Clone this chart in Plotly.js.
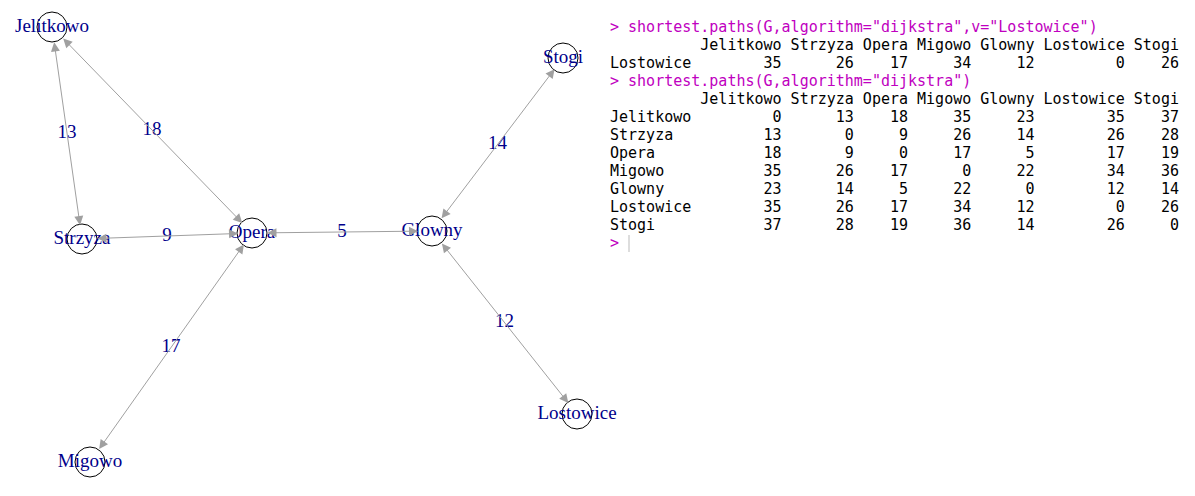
<!DOCTYPE html>
<html><head><meta charset="utf-8">
<script src="https://cdn.plot.ly/plotly-3.0.1.min.js"></script>
<style>body{margin:0;background:#fff}</style>
</head><body>
<div id="graph" style="width:1195px;height:496px"></div>
<script>
// graph nodes (layout positions in screen pixels)
var nodes = ['Jelitkowo','Strzyza','Opera','Migowo','Glowny','Lostowice','Stogi'];
var node_x = [52, 82, 252, 90, 432, 577, 563];
var node_y = [27, 239, 233, 462, 231, 414, 58];

// edges and weights
var edge_from = ['Jelitkowo','Jelitkowo','Strzyza','Opera','Migowo','Glowny','Glowny'];
var edge_to   = ['Strzyza','Opera','Opera','Glowny','Opera','Stogi','Lostowice'];
var weights   = [13, 18, 9, 5, 17, 14, 12];

// console output
var cmd1 = 'shortest.paths(G,algorithm="dijkstra",v="Lostowice")';
var cmd2 = 'shortest.paths(G,algorithm="dijkstra")';
var lost_row = [35, 26, 17, 34, 12, 0, 26];
var dist = [
  [0, 13, 18, 35, 23, 35, 37],
  [13, 0, 9, 26, 14, 26, 28],
  [18, 9, 0, 17, 5, 17, 19],
  [35, 26, 17, 0, 22, 34, 36],
  [23, 14, 5, 22, 0, 12, 14],
  [35, 26, 17, 34, 12, 0, 26],
  [37, 28, 19, 36, 14, 26, 0]
];

function pad(s, n) { s = String(s); while (s.length < n) s = ' ' + s; return s; }
function padr(s, n) { s = String(s); while (s.length < n) s += ' '; return s; }
function header() { return padr('', 9) + nodes.map(function(n){ return ' ' + n; }).join(''); }
function row(name, vals) {
  return padr(name, 9) + vals.map(function(v, i){ return ' ' + pad(v, nodes[i].length); }).join('');
}
function nb(s) { return s.replace(/ /g, '\u00A0'); }

var idx = {};
nodes.forEach(function(n, i){ idx[n] = i; });

var annotations = [];
var shapes = [];
var edgeLabX = [], edgeLabY = [], edgeLab = [];
edge_from.forEach(function(f, k){
  var a = idx[f], b = idx[edge_to[k]];
  annotations.push({
    x: node_x[b], y: node_y[b], ax: node_x[a], ay: node_y[a],
    xref: 'x', yref: 'y', axref: 'x', ayref: 'y', text: '',
    showarrow: true, arrowside: 'end+start', arrowhead: 2, startarrowhead: 2,
    arrowsize: 1.8, startarrowsize: 1.8, arrowwidth: 1, arrowcolor: '#A0A0A0',
    standoff: 14, startstandoff: 14
  });
  edgeLabX.push((node_x[a] + node_x[b]) / 2);
  edgeLabY.push((node_y[a] + node_y[b]) / 2);
  edgeLab.push(String(weights[k]));
});

var lines = [
  {t: '> ' + cmd1, c: '#C000C0'},
  {t: header(), c: '#000'},
  {t: row('Lostowice', lost_row), c: '#000'},
  {t: '> ' + cmd2, c: '#C000C0'},
  {t: header(), c: '#000'}
];
nodes.forEach(function(n, i){ lines.push({t: row(n, dist[i]), c: '#000'}); });
lines.push({t: '>', c: '#C000C0'});
lines.forEach(function(l, i){
  annotations.push({
    x: 608, y: 27 + i * 18, xref: 'x', yref: 'y', xanchor: 'left', yanchor: 'middle',
    showarrow: false, text: nb(l.t),
    font: {family: 'DejaVu Sans Mono', size: 15, color: l.c}
  });
});
shapes.push({type: 'line', x0: 629, x1: 629, y0: 235, y1: 252, line: {color: '#bbb', width: 1}});

var edgeText = {
  x: edgeLabX, y: edgeLabY, text: edgeLab, mode: 'text', type: 'scatter',
  textfont: {family: 'Liberation Serif', size: 19, color: '#00008B'},
  hoverinfo: 'none'
};
var nodeTrace = {
  x: node_x, y: node_y, text: nodes, mode: 'markers+text', type: 'scatter',
  marker: {symbol: 'circle-open', size: 30, color: '#000', line: {width: 1, color: '#000'}},
  textposition: 'middle center',
  textfont: {family: 'Liberation Serif', size: 19, color: '#00008B'}
};

Plotly.newPlot('graph', [edgeText, nodeTrace], {
  width: 1195, height: 496,
  margin: {l: 0, r: 0, t: 0, b: 0},
  showlegend: false,
  paper_bgcolor: '#fff', plot_bgcolor: '#fff',
  xaxis: {range: [0, 1195], visible: false, fixedrange: true},
  yaxis: {range: [496, 0], visible: false, fixedrange: true},
  annotations: annotations, shapes: shapes
}, {staticPlot: true});
</script>
</body></html>
